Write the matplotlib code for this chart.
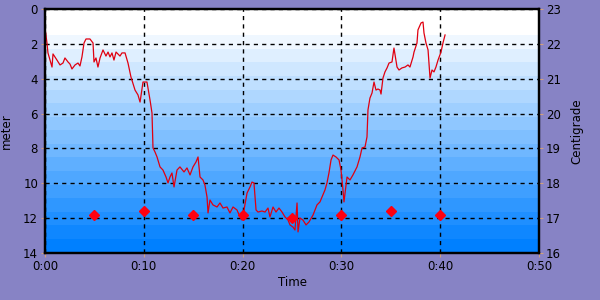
import numpy as np
import matplotlib
matplotlib.use("Agg")
import matplotlib.pyplot as plt
from matplotlib.colors import LinearSegmentedColormap

# Depth trace (minutes, meters)
depth_time = [0.00, 0.20, 0.30, 0.71, 0.81, 1.01, 1.21, 1.52, 1.82, 2.02, 2.33, 2.53, 2.73, 3.04, 3.34,
              3.54, 3.74, 3.95, 4.15, 4.55, 4.86, 4.96, 5.16, 5.36, 5.57, 5.87, 6.17, 6.38, 6.58, 6.78,
              6.98, 7.19, 7.59, 7.79, 8.10, 8.40, 8.70, 9.11, 9.41, 9.62, 9.92, 10.32, 10.63, 10.83,
              10.93, 11.13, 11.34, 11.64, 11.94, 12.25, 12.45, 12.65, 12.85, 13.06, 13.36, 13.66, 14.07,
              14.37, 14.68, 14.98, 15.28, 15.49, 15.69, 15.99, 16.19, 16.40, 16.50, 16.70, 17.00, 17.41,
              17.71, 18.02, 18.42, 18.72, 19.03, 19.43, 19.74, 19.94, 20.14, 20.45, 20.75, 20.95, 21.15,
              21.26, 21.36, 21.56, 21.96, 22.27, 22.57, 22.77, 23.08, 23.38, 23.68, 23.99, 24.29, 24.60,
              24.80, 25.10, 25.30, 25.51, 25.61, 25.81, 26.11, 26.42, 26.72, 27.13, 27.53, 27.83, 28.04,
              28.34, 28.54, 28.74, 28.95, 29.15, 29.45, 29.76, 29.96, 30.16, 30.26, 30.57, 30.87, 31.17,
              31.58, 31.88, 32.09, 32.39, 32.59, 32.69, 32.89, 33.10, 33.30, 33.50, 33.70, 33.91, 34.01,
              34.21, 34.41, 34.62, 34.82, 35.12, 35.32, 35.63, 35.83, 36.13, 36.44, 36.74, 36.94, 37.25,
              37.35, 37.65, 37.75, 38.06, 38.26, 38.36, 38.56, 38.77, 38.97, 39.17, 39.37, 39.57, 39.78,
              40.08, 40.28, 40.49]
depth_m = [1.09, 1.95, 2.52, 3.33, 2.58, 2.75, 2.93, 3.21, 3.10, 2.81, 3.04, 3.16, 3.44, 3.21, 3.10,
           3.27, 2.75, 1.95, 1.72, 1.72, 1.95, 3.04, 2.81, 3.33, 2.81, 2.35, 2.70, 2.47, 2.75, 2.52,
           2.93, 2.47, 2.70, 2.52, 2.52, 3.10, 3.90, 4.65, 4.93, 5.34, 4.19, 4.19, 5.22, 5.97,
           7.97, 8.20, 8.49, 9.06, 9.24, 9.64, 9.98, 9.64, 9.41, 10.21, 9.24, 9.06, 9.35,
           9.12, 9.52, 9.06, 8.78, 8.49, 9.64, 9.81, 10.10, 10.79, 11.70, 10.96, 11.24, 11.36,
           11.13, 11.42, 11.36, 11.70, 11.36, 11.53, 11.93, 12.11, 11.53, 10.56, 10.21, 9.93, 9.98,
           10.79, 11.53, 11.65, 11.59, 11.65, 11.42, 11.93, 11.36, 11.65, 11.42, 11.65, 11.93, 12.11,
           12.39, 12.51, 12.68, 11.13, 12.79, 11.99, 12.11, 12.39, 12.22, 11.82, 11.24, 11.07, 10.79,
           10.38, 9.98, 9.41, 8.66, 8.38, 8.49, 8.66, 9.24, 10.38, 11.07, 9.64, 9.81, 9.52,
           9.06, 8.49, 7.97, 7.92, 7.34, 5.79, 5.11, 4.82, 4.19, 4.65, 4.59, 4.65, 4.88,
           3.96, 3.61, 3.38, 3.10, 3.04, 2.24, 3.33, 3.50, 3.38, 3.33, 3.21, 3.33, 2.75,
           2.47, 1.95, 1.20, 0.80, 0.75, 1.38, 1.95, 2.35, 3.96, 3.50, 3.61, 3.33, 2.93,
           2.47, 1.95, 1.49]

# Temperature samples (minutes, centigrade)
temp_time = [5, 10, 15, 20, 25, 30, 35, 40]
temp_c = [17.1, 17.2, 17.1, 17.1, 17.0, 17.1, 17.2, 17.1]

x_ticks = [0, 10, 20, 30, 40, 50]
x_labels = ["0:00", "0:10", "0:20", "0:30", "0:40", "0:50"]
left_ticks = [0, 2, 4, 6, 8, 10, 12, 14]
right_ticks = [16, 17, 18, 19, 20, 21, 22, 23]

bg = "#8783C5"
fs = 8.5

fig = plt.figure(figsize=(6, 3), dpi=100, facecolor=bg)
ax = fig.add_axes([45/600, 47/300, 494/600, 244/300])

# Banded gradient background (white top band, then stepped to blue)
nb = 16
d = np.linspace(0, 14, 700)
frac = np.clip((d - 1.5) / (14 - 1.5), 0, 1)
vals = np.ceil(frac * nb) / nb
cmap = LinearSegmentedColormap.from_list("g", ["#FFFFFF", "#0080FF"])
ax.imshow(vals.reshape(-1, 1), aspect="auto", cmap=cmap, vmin=0, vmax=1,
          extent=[0, 50, 14, 0], zorder=0, interpolation="nearest")

ax.plot(depth_time, depth_m, color="#E00010", lw=0.9, zorder=3)
ax.set_xlim(0, 50)
ax.set_ylim(14, 0)
ax.set_xticks(x_ticks)
ax.set_xticklabels(x_labels)
ax.set_yticks(left_ticks)
ax.grid(True, color="black", linestyle=(0, (3, 3)), lw=1, zorder=1)
ax.tick_params(labelsize=fs, length=3, color="#D0A080", width=0.8, pad=2)
ax.set_xlabel("Time", fontsize=fs, labelpad=2)
ax.set_ylabel("meter", fontsize=fs, labelpad=7)
for s in ax.spines.values():
    s.set_linewidth(1.6)
    s.set_zorder(5)

ax2 = ax.twinx()
ax2.plot(temp_time, temp_c, linestyle="none", marker="D", color="#FF0010",
         markersize=5.5, zorder=4)
ax2.set_ylim(16, 23)
ax2.set_yticks(right_ticks)
ax2.tick_params(labelsize=fs, length=3, color="#D0A080", width=0.8, pad=2)
ax2.set_ylabel("Centigrade", fontsize=fs, labelpad=7)
for s in ax2.spines.values():
    s.set_linewidth(1.6)

fig.savefig("out.png", dpi=100, facecolor=bg)
